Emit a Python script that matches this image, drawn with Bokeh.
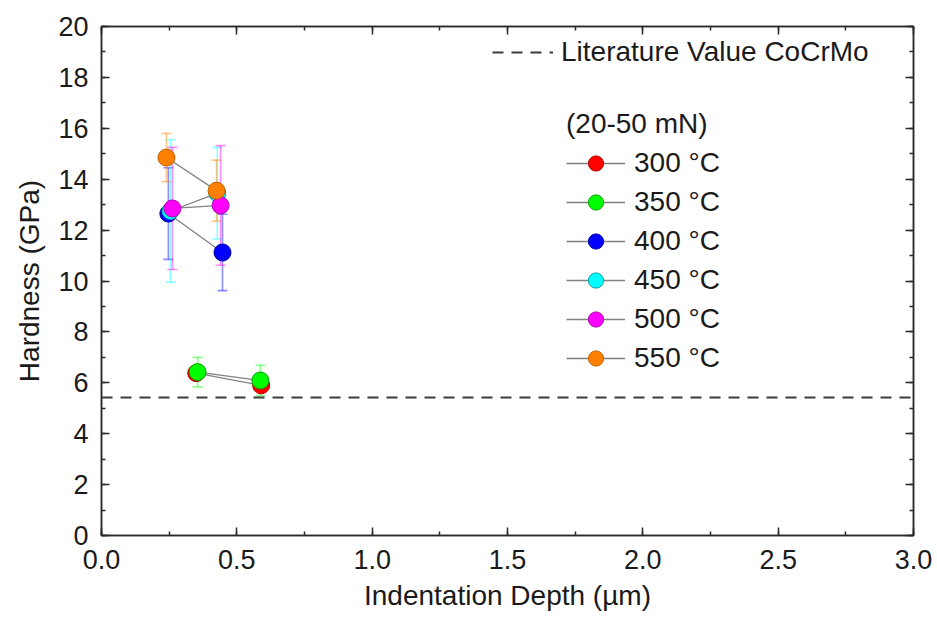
from bokeh.plotting import figure
from bokeh.models import (Range1d, LinearAxis, SingleIntervalTicker, PrintfTickFormatter,
                          ColumnDataSource, Whisker, TeeHead, Legend, LegendItem,
                          CustomLabelingPolicy)
from bokeh.embed import file_html
from bokeh.resources import INLINE

# Hardness vs. indentation depth for CoCrMo treated at different temperatures (20-50 mN loads)
temperatures = ["300 °C", "350 °C", "400 °C", "450 °C", "500 °C", "550 °C"]
colors = ["#ff0000", "#00ff00", "#0000ff", "#00ffff", "#ff00ff", "#ff8000"]
edge_colors = ["#b00000", "#00a000", "#0000a0", "#00a0a0", "#b000b0", "#c06000"]

depth_300 = [0.350, 0.590]
hard_300 = [6.38, 5.90]
err_300 = [0.20, 0.15]

depth_350 = [0.355, 0.587]
hard_350 = [6.42, 6.09]
err_350 = [0.58, 0.60]

depth_400 = [0.247, 0.447]
hard_400 = [12.65, 11.12]
err_400 = [1.80, 1.50]

depth_450 = [0.255, 0.428]
hard_450 = [12.75, 13.45]
err_450 = [2.80, 1.80]

depth_500 = [0.262, 0.440]
hard_500 = [12.85, 12.97]
err_500 = [2.40, 2.35]

depth_550 = [0.240, 0.425]
hard_550 = [14.85, 13.55]
err_550 = [0.95, 1.20]

literature_hardness = 5.42
x_limits = [0.0, 3.0]
y_limits = [0, 20]

series = [
    (depth_300, hard_300, err_300),
    (depth_350, hard_350, err_350),
    (depth_400, hard_400, err_400),
    (depth_450, hard_450, err_450),
    (depth_500, hard_500, err_500),
    (depth_550, hard_550, err_550),
]

FONT = "Liberation Sans"
AXIS_COLOR = "#2a2a2a"

p = figure(width=937, height=617, output_backend="svg", toolbar_location=None,
           x_range=Range1d(*x_limits), y_range=Range1d(*y_limits),
           min_border_left=101, min_border_right=24, min_border_top=26, min_border_bottom=82,
           background_fill_color="white", border_fill_color="white")
p.xgrid.visible = False
p.ygrid.visible = False
p.outline_line_color = AXIS_COLOR
p.outline_line_width = 1.5

x_ticker = SingleIntervalTicker(interval=0.5, num_minor_ticks=2)
y_ticker = SingleIntervalTicker(interval=2, num_minor_ticks=2)


def style_axis(ax):
    ax.axis_line_color = AXIS_COLOR
    ax.axis_line_width = 1.5
    ax.major_tick_line_color = AXIS_COLOR
    ax.minor_tick_line_color = AXIS_COLOR
    ax.major_tick_line_width = 1.5
    ax.minor_tick_line_width = 1.5
    ax.major_tick_in = 8
    ax.major_tick_out = 0
    ax.minor_tick_in = 4
    ax.minor_tick_out = 0
    ax.major_label_text_font = FONT
    ax.major_label_text_font_size = "27px"
    ax.major_label_text_color = "#1a1a1a"
    ax.axis_label_text_font = FONT
    ax.axis_label_text_font_size = "28px"
    ax.axis_label_text_font_style = "normal"
    ax.axis_label_text_color = "#1a1a1a"


xa = p.xaxis[0]
style_axis(xa)
xa.ticker = x_ticker
xa.formatter = PrintfTickFormatter(format="%.1f")
xa.axis_label = "Indentation Depth (µm)"
xa.major_label_standoff = 14
xa.axis_label_standoff = 8

ya = p.yaxis[0]
style_axis(ya)
ya.ticker = y_ticker
ya.formatter = PrintfTickFormatter(format="%d")
ya.axis_label = "Hardness (GPa)"
ya.major_label_standoff = 13
ya.axis_label_standoff = 10

# mirrored frame axes: ticks only, every label filtered out
no_labels = "for (let i = 0; i < indices.size; i++) { indices.unset(i) }\nreturn indices"

top_axis = LinearAxis(ticker=x_ticker)
style_axis(top_axis)
top_axis.major_label_text_font_size = "1px"
top_axis.major_label_standoff = 0
top_axis.major_label_policy = CustomLabelingPolicy(code=no_labels)
p.add_layout(top_axis, "above")

right_axis = LinearAxis(ticker=y_ticker)
style_axis(right_axis)
right_axis.major_label_text_font_size = "1px"
right_axis.major_label_standoff = 0
right_axis.major_label_policy = CustomLabelingPolicy(code=no_labels)
p.add_layout(right_axis, "right")

# literature reference line across the full depth range
lit_r = p.line(x=x_limits, y=[literature_hardness, literature_hardness],
               line_color="#3a3a3a", line_width=2, line_dash="11 8")

# error bars first so markers sit on top of them
sources = []
for (d, h, e), c in zip(series, colors):
    src = ColumnDataSource(dict(x=d, y=h,
                                lower=[v - s for v, s in zip(h, e)],
                                upper=[v + s for v, s in zip(h, e)]))
    sources.append(src)
    w = Whisker(source=src, base="x", lower="lower", upper="upper", dimension="height",
                line_color=c, line_alpha=0.45, line_width=1.6,
                lower_head=TeeHead(size=10, line_color=c, line_alpha=0.45, line_width=1.6),
                upper_head=TeeHead(size=10, line_color=c, line_alpha=0.45, line_width=1.6))
    p.add_layout(w)

items = []
for src, label, c, ec in zip(sources, temperatures, colors, edge_colors):
    lr = p.line("x", "y", source=src, line_color="#808080", line_width=1.3)
    sr = p.scatter("x", "y", source=src, size=17, marker="circle",
                   fill_color=c, line_color=ec, line_width=1)
    items.append(LegendItem(label=label, renderers=[lr, sr]))

lit_legend = Legend(items=[LegendItem(label="Literature Value CoCrMo", renderers=[lit_r])],
                    location=(391, 467), orientation="vertical",
                    padding=0, margin=0, border_line_color=None, background_fill_alpha=0,
                    glyph_width=61, glyph_height=30, label_height=30, label_standoff=8,
                    label_text_font=FONT, label_text_font_size="28px",
                    label_text_color="#1a1a1a")
p.add_layout(lit_legend)

temp_legend = Legend(items=items, location=(465, 158), orientation="vertical",
                     padding=0, margin=0, border_line_color=None, background_fill_alpha=0,
                     glyph_width=59, glyph_height=38, label_height=38, spacing=1,
                     label_standoff=9,
                     label_text_font=FONT, label_text_font_size="28px",
                     label_text_color="#1a1a1a",
                     title="(20-50 mN)", title_text_font=FONT, title_text_font_size="28px",
                     title_text_font_style="normal", title_text_color="#1a1a1a",
                     title_standoff=4)
p.add_layout(temp_legend)

open("out.html", "w").write(file_html(p, INLINE))
